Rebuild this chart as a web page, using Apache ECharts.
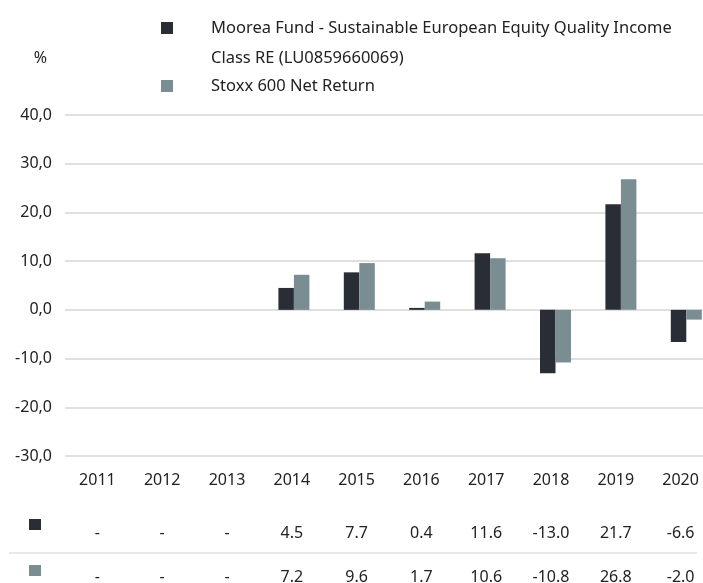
<!DOCTYPE html>
<html>
<head>
<meta charset="utf-8">
<script src="https://cdn.jsdelivr.net/npm/echarts@6/dist/echarts.min.js"></script>
<style>
  html, body { margin: 0; padding: 0; background: #fff; }
  #chart { width: 703px; height: 583px; }
</style>
</head>
<body>
<div id="chart"></div>
<script>
  // data
  var years = ['2011', '2012', '2013', '2014', '2015', '2016', '2017', '2018', '2019', '2020']
  var fundName = 'Moorea Fund - Sustainable European Equity Quality Income\nClass RE (LU0859660069)'
  var indexName = 'Stoxx 600 Net Return'
  var fundValues = [null, null, null, 4.5, 7.7, 0.4, 11.6, -13.0, 21.7, -6.6]
  var indexValues = [null, null, null, 7.2, 9.6, 1.7, 10.6, -10.8, 26.8, -2.0]
  var yTicks = { min: -30, max: 40, interval: 10 }

  var darkColor = '#282d36'
  var lightColor = '#7a8d92'
  var textColor = '#222'
  var font = 'Noto Sans'

  function cell(v) {
    return v === null ? '-' : v.toFixed(1)
  }

  // year row and table rows live on a second, slightly narrower grid
  function labelAxis(margin, formatter) {
    return {
      type: 'category',
      position: 'bottom',
      gridIndex: 1,
      data: years,
      axisLine: { show: false },
      axisTick: { show: false },
      axisLabel: {
        margin: margin,
        interval: 0,
        color: textColor,
        fontFamily: font,
        fontSize: 16,
        formatter: formatter
      }
    }
  }

  var chart = echarts.init(document.getElementById('chart'))
  var option = {
    animation: false,
    legend: [
      {
        left: 161,
        top: -17,
        padding: 0,
        orient: 'vertical',
        icon: 'rect',
        itemWidth: 12,
        itemHeight: 12,
        selectedMode: false,
        data: [{ name: fundName, itemStyle: { color: darkColor } }],
        // blank first line keeps the square level with the first text line
        formatter: function (name) { return '\n' + name },
        textStyle: { color: textColor, fontFamily: font, fontSize: 16.5, lineHeight: 30, padding: [0, 0, 0, 33] }
      },
      {
        left: 161,
        top: 71,
        padding: 0,
        orient: 'vertical',
        icon: 'rect',
        itemWidth: 12,
        itemHeight: 12,
        selectedMode: false,
        data: [{ name: indexName, itemStyle: { color: lightColor } }],
        textStyle: { color: textColor, fontFamily: font, fontSize: 16.5, lineHeight: 30, padding: [0, 0, 0, 33] }
      }
    ],
    grid: [
      { left: 65, width: 654, top: 115, bottom: 127, outerBoundsMode: 'none' },
      { left: 65, width: 648, top: 115, bottom: 127, outerBoundsMode: 'none' }
    ],
    xAxis: [
      {
        type: 'category',
        gridIndex: 0,
        data: years,
        axisLine: { show: false },
        axisTick: { show: false },
        axisLabel: { show: false }
      },
      labelAxis(16),
      labelAxis(69, function (v, i) { return cell(fundValues[i]) }),
      labelAxis(113, function (v, i) { return cell(indexValues[i]) })
    ],
    yAxis: [
      {
        type: 'value',
        gridIndex: 0,
        min: yTicks.min,
        max: yTicks.max,
        interval: yTicks.interval,
        name: '%',
        nameLocation: 'end',
        nameGap: 49,
        nameTextStyle: { color: textColor, fontFamily: font, fontSize: 16, align: 'right', padding: [0, 18, 0, 0] },
        axisLine: { show: false },
        axisTick: { show: false },
        axisLabel: {
          margin: 13,
          color: textColor,
          fontFamily: font,
          fontSize: 16,
          formatter: function (v) { return v.toFixed(1).replace('.', ',') }
        },
        splitLine: { lineStyle: { color: '#e0e0e0', width: 2 } }
      },
      {
        type: 'value',
        gridIndex: 1,
        min: yTicks.min,
        max: yTicks.max,
        show: false
      }
    ],
    series: [
      {
        name: fundName,
        type: 'bar',
        barWidth: 15.5,
        barGap: '0%',
        itemStyle: { color: darkColor },
        data: fundValues
      },
      {
        name: indexName,
        type: 'bar',
        barWidth: 15.5,
        barGap: '0%',
        itemStyle: { color: lightColor },
        data: indexValues
      }
    ],
    graphic: [
      { type: 'rect', left: 29, top: 519, shape: { width: 12, height: 11 }, style: { fill: darkColor } },
      { type: 'rect', left: 29, top: 565, shape: { width: 12, height: 11 }, style: { fill: lightColor } },
      { type: 'line', shape: { x1: 9, y1: 553, x2: 697, y2: 553 }, style: { stroke: '#e0e0e0', lineWidth: 1.5 } }
    ]
  }
  chart.setOption(option)
</script>
</body>
</html>
